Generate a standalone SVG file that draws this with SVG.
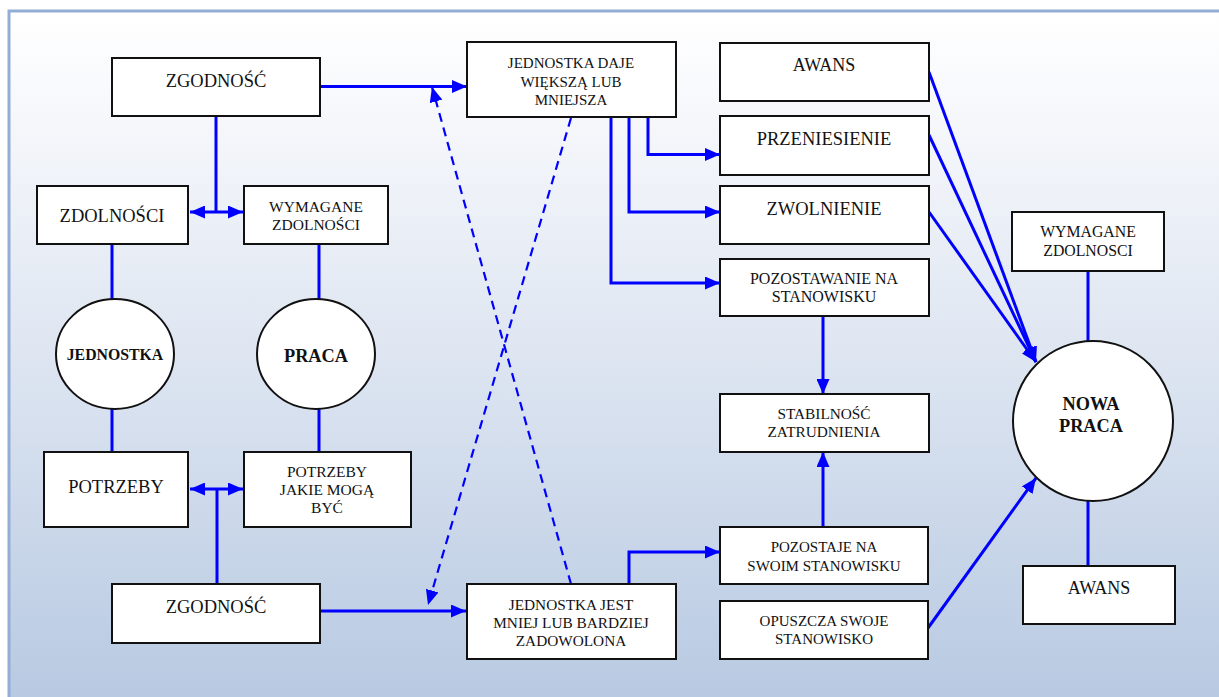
<svg xmlns="http://www.w3.org/2000/svg" width="1219" height="697" viewBox="0 0 1219 697">
  <defs>
    <linearGradient id="bg" x1="0" y1="0" x2="0" y2="1">
      <stop offset="0" stop-color="#ffffff"/>
      <stop offset="0.12" stop-color="#f8f9fc"/>
      <stop offset="0.5" stop-color="#dde5f1"/>
      <stop offset="1" stop-color="#b6c8e1"/>
    </linearGradient>
    <marker id="arrow" viewBox="0 0 15 13" refX="15" refY="6.5" markerWidth="15" markerHeight="13" markerUnits="userSpaceOnUse" orient="auto-start-reverse">
      <path d="M0,0 L15,6.5 L0,13 Z" fill="#0000ff"/>
    </marker>
    <style>
      .box { fill: #ffffff; stroke: #111111; stroke-width: 2; }
      .circ { fill: #ffffff; stroke: #111111; stroke-width: 2; }
      text { font-family: 'Liberation Serif', Tinos, 'DejaVu Serif', serif; fill: #111111; text-anchor: middle; }
      .big { font-size: 18.5px; }
      .mid { font-size: 15.5px; }
      .b { font-weight: bold; }
      .wire { fill: none; stroke: #0000ff; stroke-width: 3; }
      .dash { fill: none; stroke: #0000ff; stroke-width: 2.2; stroke-dasharray: 9 6; }
    </style>
  </defs>

  <!-- page background and frame -->
  <rect x="0" y="0" width="1219" height="697" fill="#ffffff"/>
  <rect x="9" y="11" width="1230" height="700" fill="url(#bg)" stroke="#93aed6" stroke-width="3"/>

  <!-- connectors -->
  <g id="connectors">
    <path class="wire" d="M320,86.5 H467" marker-end="url(#arrow)"/>
    <path class="wire" d="M216,116 V212"/>
    <path class="wire" d="M190,212 H243" marker-start="url(#arrow)" marker-end="url(#arrow)"/>
    <path class="wire" d="M112,244 V299 M112,409 V452"/>
    <path class="wire" d="M319,244 V299 M319,409 V452"/>
    <path class="wire" d="M190,489 H243" marker-start="url(#arrow)" marker-end="url(#arrow)"/>
    <path class="wire" d="M217,489 V584"/>
    <path class="wire" d="M320,611 H466" marker-end="url(#arrow)"/>
    <path class="dash" d="M571,118 L428,605" marker-end="url(#arrow)"/>
    <path class="dash" d="M571,584 L432,87" marker-end="url(#arrow)"/>
    <path class="wire" d="M648,117 V154.5 H720" marker-end="url(#arrow)"/>
    <path class="wire" d="M629,117 V212 H720" marker-end="url(#arrow)"/>
    <path class="wire" d="M611,117 V283 H720" marker-end="url(#arrow)"/>
    <path class="wire" d="M823,316 V394" marker-end="url(#arrow)"/>
    <path class="wire" d="M823,527 V452" marker-end="url(#arrow)"/>
    <path class="wire" d="M629,584 V552 H720" marker-end="url(#arrow)"/>
    <path class="wire" d="M929,72 L1036,362" marker-end="url(#arrow)"/>
    <path class="wire" d="M929,135 L1036,362" marker-end="url(#arrow)"/>
    <path class="wire" d="M929,212 L1036,362" marker-end="url(#arrow)"/>
    <path class="wire" d="M928,628 L1036,478" marker-end="url(#arrow)"/>
    <path class="wire" d="M1088,271 V341 M1088,496 V566"/>
  </g>

  <!-- left column -->
  <g id="zgodnosc-top">
    <rect class="box" x="112" y="58" width="208" height="58"/>
    <text class="big" x="216" y="87">ZGODNOŚĆ</text>
  </g>
  <g id="zdolnosci">
    <rect class="box" x="37" y="186" width="151" height="58"/>
    <text class="big" x="112" y="222">ZDOLNOŚCI</text>
  </g>
  <g id="wymagane-zdolnosci">
    <rect class="box" x="244" y="186" width="144" height="58"/>
    <text class="mid" x="316" y="212">WYMAGANE</text>
    <text class="mid" x="316" y="230">ZDOLNOŚCI</text>
  </g>
  <g id="jednostka">
    <ellipse class="circ" cx="115" cy="354" rx="59" ry="55"/>
    <text class="b" x="115" y="360" font-size="15.8">JEDNOSTKA</text>
  </g>
  <g id="praca">
    <ellipse class="circ" cx="316" cy="354" rx="59" ry="55"/>
    <text class="b" x="316" y="362" font-size="18.3">PRACA</text>
  </g>
  <g id="potrzeby">
    <rect class="box" x="44" y="452" width="144" height="75"/>
    <text class="big" x="116" y="493">POTRZEBY</text>
  </g>
  <g id="potrzeby-jakie">
    <rect class="box" x="244" y="452" width="167" height="75"/>
    <text class="mid" x="327" y="477">POTRZEBY</text>
    <text class="mid" x="327" y="495">JAKIE MOGĄ</text>
    <text class="mid" x="327" y="513">BYĆ</text>
  </g>
  <g id="zgodnosc-bottom">
    <rect class="box" x="112" y="584" width="208" height="59"/>
    <text class="big" x="216" y="613">ZGODNOŚĆ</text>
  </g>

  <!-- middle column -->
  <g id="jednostka-daje">
    <rect class="box" x="467" y="42" width="209" height="75"/>
    <text x="571" y="68" font-size="15">JEDNOSTKA DAJE</text>
    <text x="571" y="87" font-size="15">WIĘKSZĄ LUB</text>
    <text x="571" y="105" font-size="15">MNIEJSZA</text>
  </g>
  <g id="jednostka-jest">
    <rect class="box" x="467" y="584" width="209" height="75"/>
    <text x="571" y="610" font-size="15.3">JEDNOSTKA JEST</text>
    <text x="571" y="628" font-size="15.3">MNIEJ LUB BARDZIEJ</text>
    <text x="571" y="646" font-size="15.3">ZADOWOLONA</text>
  </g>

  <!-- outcome column -->
  <g id="awans">
    <rect class="box" x="720" y="43" width="209" height="58"/>
    <text x="824" y="71" font-size="18">AWANS</text>
  </g>
  <g id="przeniesienie">
    <rect class="box" x="720" y="116" width="209" height="59"/>
    <text class="big" x="824" y="145">PRZENIESIENIE</text>
  </g>
  <g id="zwolnienie">
    <rect class="box" x="720" y="186" width="209" height="58"/>
    <text class="big" x="824" y="215">ZWOLNIENIE</text>
  </g>
  <g id="pozostawanie">
    <rect class="box" x="720" y="259" width="209" height="57"/>
    <text x="824" y="284" font-size="16">POZOSTAWANIE NA</text>
    <text x="824" y="302" font-size="16">STANOWISKU</text>
  </g>
  <g id="stabilnosc">
    <rect class="box" x="720" y="394" width="209" height="58"/>
    <text x="824" y="419" font-size="15.3">STABILNOŚĆ</text>
    <text x="824" y="437" font-size="15.3">ZATRUDNIENIA</text>
  </g>
  <g id="pozostaje">
    <rect class="box" x="720" y="527" width="208" height="57"/>
    <text x="824" y="552" font-size="15">POZOSTAJE NA</text>
    <text x="824" y="571" font-size="15">SWOIM STANOWISKU</text>
  </g>
  <g id="opuszcza">
    <rect class="box" x="720" y="601" width="208" height="58"/>
    <text x="824" y="626" font-size="15">OPUSZCZA SWOJE</text>
    <text x="824" y="644" font-size="15">STANOWISKO</text>
  </g>

  <!-- right column -->
  <g id="wymagane-zdolnosci-nowe">
    <rect class="box" x="1012" y="212" width="152" height="59"/>
    <text x="1088" y="237" font-size="15.8">WYMAGANE</text>
    <text x="1088" y="256" font-size="15.8">ZDOLNOSCI</text>
  </g>
  <g id="nowa-praca">
    <circle class="circ" cx="1093" cy="421" r="80"/>
    <text class="b" x="1091" y="410" font-size="18.3">NOWA</text>
    <text class="b" x="1091" y="432" font-size="18.3">PRACA</text>
  </g>
  <g id="awans-nowy">
    <rect class="box" x="1023" y="566" width="152" height="58"/>
    <text x="1099" y="594" font-size="18">AWANS</text>
  </g>
</svg>
